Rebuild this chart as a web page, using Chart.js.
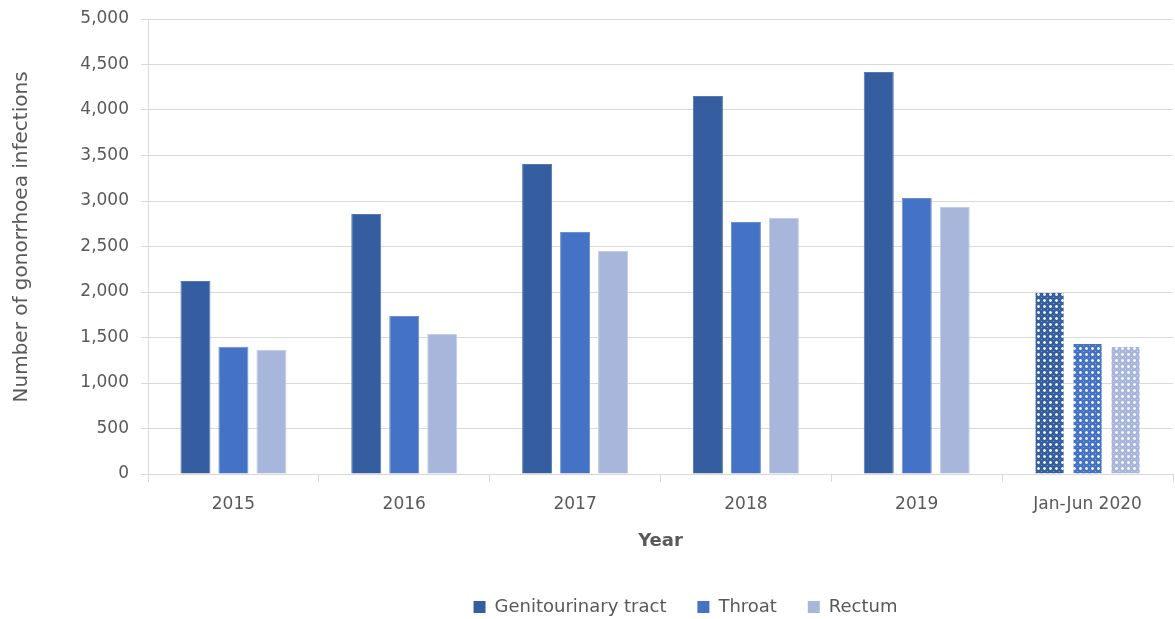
<!DOCTYPE html>
<html>
<head>
<meta charset="utf-8">
<script src="https://cdn.jsdelivr.net/npm/chart.js@4"></script>
<style>
html,body{margin:0;padding:0;background:#fff;}
#wrap{width:1175px;height:619px;}
</style>
</head>
<body>
<div id="wrap"><canvas id="c" width="1175" height="619"></canvas></div>
<script>
const categories = ['2015','2016','2017','2018','2019','Jan-Jun 2020'];
const genitourinary = [2120, 2857, 3407, 4154, 4418, 2000];
const throat = [1398, 1736, 2659, 2769, 3033, 1440];
const rectum = [1365, 1538, 2451, 2813, 2934, 1407];
const seriesNames = ['Genitourinary tract', 'Throat', 'Rectum'];
const seriesColors = ['#355ea1', '#4472c4', '#a9b6db'];
const borderColors = ['#5577b4', '#6a8fd4', '#c3cde8'];
const yTicks = [0, 500, 1000, 1500, 2000, 2500, 3000, 3500, 4000, 4500, 5000];

function makePattern(color){
  const t = document.createElement('canvas');
  t.width = 6; t.height = 6;
  const g = t.getContext('2d');
  g.fillStyle = color; g.fillRect(0,0,6,6);
  g.fillStyle = 'rgba(255,255,255,0.9)';
  g.fillRect(0,0,1,1); g.fillRect(1,0,1,1); g.fillRect(5,0,1,1);
  g.fillRect(0,1,1,1); g.fillRect(0,5,1,1);
  g.fillStyle = 'rgba(255,255,255,0.4)';
  g.fillRect(3,3,1,1); g.fillRect(1,1,1,1); g.fillRect(5,5,1,1);
  g.fillRect(1,5,1,1); g.fillRect(5,1,1,1);
  return document.getElementById('c').getContext('2d').createPattern(t,'repeat');
}
const patterns = seriesColors.map(makePattern);

const dataArrays = [genitourinary, throat, rectum];
const datasets = dataArrays.map((d,i)=>({
  label: seriesNames[i],
  data: d,
  backgroundColor: (ctx)=> (ctx.type==='data' && ctx.dataIndex === categories.length-1) ? patterns[i] : seriesColors[i],
  borderColor: (ctx)=> (ctx.type==='data' && ctx.dataIndex === categories.length-1) ? 'rgba(0,0,0,0)' : borderColors[i],
  borderWidth: 1,
  barPercentage: 0.79,
  categoryPercentage: 0.667
}));

const legendShift = {
  id: 'legendShift',
  afterLayout(chart){
    const lg = chart.legend;
    if (lg) { lg.left += 97; lg.right += 97; lg.top += 7; lg.bottom += 7; }
  }
};

const FONT = '"DejaVu Sans", "Noto Sans", sans-serif';
const SP = '\u00a0\u00a0\u00a0\u00a0';
new Chart(document.getElementById('c'), {
  type: 'bar',
  data: { labels: categories, datasets },
  plugins: [legendShift],
  options: {
    responsive: false,
    animation: false,
    layout: { padding: { top: 19, right: 2, left: 4, bottom: 0 } },
    plugins: {
      legend: {
        position: 'bottom',
        labels: {
          boxWidth: 12, boxHeight: 12, color: '#595959',
          font: { family: FONT, size: 18 }, padding: 8,
          generateLabels: (chart)=> seriesNames.map((n,i)=>({
            text: i < seriesNames.length-1 ? n + SP : n,
            fillStyle: seriesColors[i], strokeStyle: seriesColors[i], lineWidth: 0,
            fontColor: '#595959', datasetIndex: i, hidden: false
          }))
        }
      },
      tooltip: { enabled: false }
    },
    scales: {
      x: {
        grid: { offset: true, drawOnChartArea: false, drawTicks: true, tickLength: 8, color: '#d9d9d9' },
        border: { color: '#d9d9d9' },
        ticks: { color: '#595959', font: { family: FONT, size: 17 }, padding: 12 },
        title: { display: true, text: 'Year', color: '#595959', font: { family: FONT, size: 18, weight: 'bold' }, padding: { top: 4, bottom: 31 } }
      },
      y: {
        min: 0, max: 5000,
        afterFit: (s)=>{ s.width = 144; s.paddingTop = 0; s.paddingBottom = 0; },
        afterBuildTicks: (s)=>{ s.ticks = yTicks.map(v=>({value:v})); },
        grid: { color: '#d9d9d9', tickLength: 7 },
        border: { color: '#d9d9d9' },
        ticks: { color: '#595959', font: { family: FONT, size: 17 }, padding: 12,
          callback: (v)=> v.toLocaleString('en-US') },
        title: { display: true, text: '\u00a0\u00a0\u00a0Number of gonorrhoea infections', color: '#595959', font: { family: FONT, size: 20 }, padding: { top: 6, bottom: 14 } }
      }
    }
  }
});
</script>
</body>
</html>
